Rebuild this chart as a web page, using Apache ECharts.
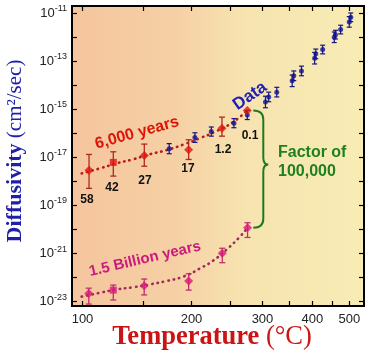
<!DOCTYPE html>
<html>
<head>
<meta charset="utf-8">
<script src="https://cdn.jsdelivr.net/npm/echarts@6/dist/echarts.min.js"></script>
<style>
html, body { margin: 0; padding: 0; background: #fff; }
#main { width: 372px; height: 353px; }
</style>
</head>
<body>
<div id="main"></div>
<script>
// temperatures in °C, diffusivity stored as log10 (cm²/sec)
var dataTemp = [175.4, 204.0, 224.2, 255.1, 275.2, 305.1, 310.8, 325.5, 355.6, 358.9, 375.3, 405.4, 408.1, 425.1, 455.8, 459.1, 473.9, 499.7, 504.4];
var dataLogD = [-16.64, -16.18, -15.93, -15.58, -15.24, -14.70, -14.49, -14.29, -13.82, -13.61, -13.41, -12.88, -12.70, -12.52, -12.01, -11.90, -11.69, -11.37, -11.18];
var dataErr = [0.21, 0.2, 0.19, 0.19, 0.19, 0.24, 0.2, 0.2, 0.24, 0.2, 0.2, 0.24, 0.2, 0.18, 0.22, 0.18, 0.18, 0.22, 0.18];

// 6,000 years model
var youngTemp = [104.8, 123.7, 150.8, 196.7, 238.3, 275.2];
var youngLogD = [-17.54, -17.21, -16.92, -16.69, -15.79, -15.05];
var youngLow = [-18.29, -17.78, -17.37, -17.09, -16.12, null];
var youngHigh = [-16.88, -16.77, -16.45, -16.27, -15.33, null];
var youngAge = ['58', '42', '27', '17', '1.2', '0.1'];
var youngFitTemp = [99.4, 113.1, 126.5, 140.8, 156.2, 172.8, 190.6, 210.1, 231.2, 254.1, 275.2];
var youngFitLogD = [-17.67, -17.46, -17.25, -17.08, -16.87, -16.70, -16.47, -16.20, -15.91, -15.53, -15.05];

// 1.5 billion years model
var oldTemp = [104.6, 123.7, 150.7, 196.7, 238.7, 275.6];
var oldLogD = [-22.66, -22.52, -22.34, -22.14, -20.99, -19.93];
var oldLow = [-23.10, -22.93, -22.72, -22.52, -21.38, -20.33];
var oldHigh = [-22.44, -22.31, -22.06, -21.84, -20.78, -19.72];
var oldFitTemp = [99.4, 113.1, 126.5, 140.8, 156.2, 172.8, 190.6, 210.1, 226.7, 244.8, 261.5, 275.6];
var oldFitLogD = [-22.79, -22.63, -22.49, -22.40, -22.28, -22.14, -21.96, -21.62, -21.29, -20.83, -20.37, -19.93];

var tempTicks = [100, 150, 200, 250, 300, 350, 400, 450, 500];
var tempLabels = [100, 200, 300, 400, 500];
var decadeTicks = [-23, -22, -21, -20, -19, -18, -17, -16, -15, -14, -13, -12, -11];
var decadeLabels = [-23, -21, -19, -17, -15, -13, -11];

// x axis is 1000/T(K), drawn inverted so hot is on the right
function k(t) { return 1000 / (t + 273.15); }

function pairs(xs, ys) {
	var out = [];
	for (var i = 0; i < xs.length; i++) {
		out.push([k(xs[i]), ys[i]]);
	}
	return out;
}

function bars(xs, lo, hi) {
	var out = [];
	for (var i = 0; i < xs.length; i++) {
		if (lo[i] == null) continue;
		out.push([k(xs[i]), lo[i], hi[i]]);
	}
	return out;
}

function markers(xs, ys) {
	return pairs(xs, ys).map(function (p, i) {
		// second point of each model is drawn as a square
		return i == 1 ? { value: p, symbol: 'rect', symbolSize: 7 } : { value: p };
	});
}

function errorBar(color, cap, width) {
	return function (params, api) {
		var x = api.value(0);
		var p1 = api.coord([x, api.value(2)]);
		var p2 = api.coord([x, api.value(1)]);
		var h = cap / 2;
		var st = { stroke: color, lineWidth: width };
		return {
			type: 'group',
			children: [
				{ type: 'line', shape: { x1: p1[0], y1: p1[1], x2: p2[0], y2: p2[1] }, style: st },
				{ type: 'line', shape: { x1: p1[0] - h, y1: p1[1], x2: p1[0] + h, y2: p1[1] }, style: st },
				{ type: 'line', shape: { x1: p2[0] - h, y1: p2[1], x2: p2[0] + h, y2: p2[1] }, style: st }
			]
		};
	};
}

var blueErr = dataTemp.map(function (t, i) {
	return [k(t), dataLogD[i] - dataErr[i], dataLogD[i] + dataErr[i]];
});

var xMin = 1.2173, xMax = 2.7344;
var yMin = -23.18, yMax = -10.71;

var sans = '"Liberation Sans", Arial, sans-serif';
var serif = '"Liberation Serif", "Times New Roman", serif';

var chart = echarts.init(document.getElementById('main'));

var tickStyle = { inside: true, length: 5, lineStyle: { color: '#000', width: 1.2 } };

var option = {
	animation: false,
	grid: {
		left: 72, right: 8, top: 6, bottom: 47,
		show: true,
		borderColor: '#000',
		borderWidth: 2,
		backgroundColor: new echarts.graphic.LinearGradient(0, 0, 1, 0, [
			{ offset: 0, color: '#f5c59e' },
			{ offset: 0.35, color: '#f6d0a5' },
			{ offset: 0.6, color: '#f7e4b0' },
			{ offset: 1, color: '#f8ecb5' }
		])
	},
	xAxis: [{
		type: 'value', inverse: true, min: xMin, max: xMax,
		axisLine: { show: false }, splitLine: { show: false },
		axisTick: Object.assign({ customValues: tempTicks.map(k) }, tickStyle),
		axisLabel: {
			customValues: tempLabels.map(k),
			formatter: function (v) { return Math.round(1000 / v - 273.15); },
			margin: 7, fontSize: 13, color: '#222', fontFamily: sans
		}
	}, {
		type: 'value', position: 'top', inverse: true, min: xMin, max: xMax,
		axisLine: { show: false }, splitLine: { show: false },
		axisTick: Object.assign({ customValues: tempTicks.map(k) }, tickStyle),
		axisLabel: { show: false }
	}],
	yAxis: [{
		type: 'value', min: yMin, max: yMax,
		axisLine: { show: false }, splitLine: { show: false },
		axisTick: Object.assign({ customValues: decadeTicks }, tickStyle),
		axisLabel: {
			customValues: decadeLabels,
			margin: 5, color: '#222',
			formatter: function (v) { return '{b|10}{s|' + v + '}'; },
			rich: {
				b: { fontSize: 13, fontFamily: sans, color: '#222', lineHeight: 18 },
				s: { fontSize: 9, fontFamily: sans, color: '#222', verticalAlign: 'top', lineHeight: 12 }
			}
		}
	}, {
		type: 'value', position: 'right', min: yMin, max: yMax,
		axisLine: { show: false }, splitLine: { show: false },
		axisTick: Object.assign({ customValues: decadeTicks }, tickStyle),
		axisLabel: { show: false }
	}],
	series: [{
		type: 'line', data: pairs(youngFitTemp, youngFitLogD), smooth: true, symbol: 'none', z: 2,
		lineStyle: { color: '#b81c18', width: 2.6, type: [0.5, 5], cap: 'round' }
	}, {
		type: 'line', data: pairs(oldFitTemp, oldFitLogD), smooth: true, symbol: 'none', z: 2,
		lineStyle: { color: '#a0285a', width: 2.6, type: [0.5, 5], cap: 'round' }
	}, {
		type: 'custom', data: blueErr, renderItem: errorBar('#14147e', 5, 1.2), z: 3
	}, {
		type: 'custom', data: bars(youngTemp, youngLow, youngHigh), renderItem: errorBar('#b02a1c', 6, 1.3), z: 3
	}, {
		type: 'custom', data: bars(oldTemp, oldLow, oldHigh), renderItem: errorBar('#c0306c', 6, 1.3), z: 3
	}, {
		type: 'scatter', data: pairs(dataTemp, dataLogD), symbol: 'circle', symbolSize: 5, z: 4,
		itemStyle: { color: '#12129a' }
	}, {
		type: 'scatter', data: markers(youngTemp, youngLogD), symbol: 'diamond', symbolSize: 9, z: 4,
		itemStyle: { color: '#e2140c' }
	}, {
		type: 'scatter', data: markers(oldTemp, oldLogD), symbol: 'diamond', symbolSize: 9, z: 4,
		itemStyle: { color: '#d8187a' }
	}, {
		// brace between the two models at the last point
		type: 'custom', z: 5,
		data: [[k(youngTemp[5]), youngLogD[5], oldLogD[5]]],
		renderItem: function (params, api) {
			var top = api.coord([api.value(0), api.value(1)]);
			var bot = api.coord([api.value(0), api.value(2)]);
			var x0 = top[0] + 6, xv = top[0] + 16, xt = top[0] + 21;
			var yT = top[1], yB = bot[1];
			var yM = yT + 0.46 * (yB - yT);
			var d = 'M' + x0 + ' ' + yT +
				' Q' + xv + ' ' + yT + ' ' + xv + ' ' + (yT + 9) +
				' L' + xv + ' ' + (yM - 7) +
				' Q' + xv + ' ' + yM + ' ' + xt + ' ' + yM +
				' Q' + xv + ' ' + yM + ' ' + xv + ' ' + (yM + 7) +
				' L' + xv + ' ' + (yB - 9) +
				' Q' + xv + ' ' + yB + ' ' + x0 + ' ' + yB;
			return {
				type: 'path',
				shape: { pathData: d },
				style: { stroke: '#1e7a1e', lineWidth: 2, fill: 'none' }
			};
		}
	}],
	graphic: [{
		type: 'text', x: 15, y: 151, rotation: Math.PI / 2,
		style: {
			text: '{b|Diffusivity}{n| (cm²/sec)}',
			align: 'center', verticalAlign: 'middle',
			rich: {
				b: { fontSize: 22, fontWeight: 'bold', fontFamily: serif, fill: '#1f1fa8' },
				n: { fontSize: 21, fontFamily: serif, fill: '#1f1fa8' }
			}
		}
	}, {
		type: 'text', x: 212, y: 337,
		style: {
			text: '{b|Temperature}{n| (°C)}',
			align: 'center', verticalAlign: 'middle',
			rich: {
				b: { fontSize: 26.5, fontWeight: 'bold', fontFamily: serif, fill: '#cc1414' },
				n: { fontSize: 26.5, fontFamily: serif, fill: '#cc1414' }
			}
		}
	}, {
		type: 'text', x: 137, y: 133, rotation: 0.27,
		style: { text: '6,000 years', font: 'bold 16px ' + sans, fill: '#dc1408', align: 'center', verticalAlign: 'middle' }
	}, {
		type: 'text', x: 250, y: 96, rotation: 0.61,
		style: { text: 'Data', font: 'bold 17px ' + sans, fill: '#1e1eb4', align: 'center', verticalAlign: 'middle' }
	}, {
		type: 'text', x: 145, y: 259, rotation: 0.23,
		style: { text: '1.5 Billion years', font: 'bold 15px ' + sans, fill: '#cc1a7c', align: 'center', verticalAlign: 'middle' }
	}, {
		type: 'text', x: 278, y: 162,
		style: { text: 'Factor of\n100,000', font: 'bold 16px ' + sans, fill: '#1e801e', align: 'left', verticalAlign: 'middle', lineHeight: 18.5 }
	}, {
		type: 'text', x: 87, y: 200,
		style: { text: youngAge[0], font: 'bold 12px ' + sans, fill: '#111', align: 'center', verticalAlign: 'middle' }
	}, {
		type: 'text', x: 112, y: 188,
		style: { text: youngAge[1], font: 'bold 12px ' + sans, fill: '#111', align: 'center', verticalAlign: 'middle' }
	}, {
		type: 'text', x: 145, y: 181,
		style: { text: youngAge[2], font: 'bold 12px ' + sans, fill: '#111', align: 'center', verticalAlign: 'middle' }
	}, {
		type: 'text', x: 188, y: 169,
		style: { text: youngAge[3], font: 'bold 12px ' + sans, fill: '#111', align: 'center', verticalAlign: 'middle' }
	}, {
		type: 'text', x: 223, y: 150,
		style: { text: youngAge[4], font: 'bold 12px ' + sans, fill: '#111', align: 'center', verticalAlign: 'middle' }
	}, {
		type: 'text', x: 250, y: 136,
		style: { text: youngAge[5], font: 'bold 12px ' + sans, fill: '#111', align: 'center', verticalAlign: 'middle' }
	}]
};

chart.setOption(option);
</script>
</body>
</html>
